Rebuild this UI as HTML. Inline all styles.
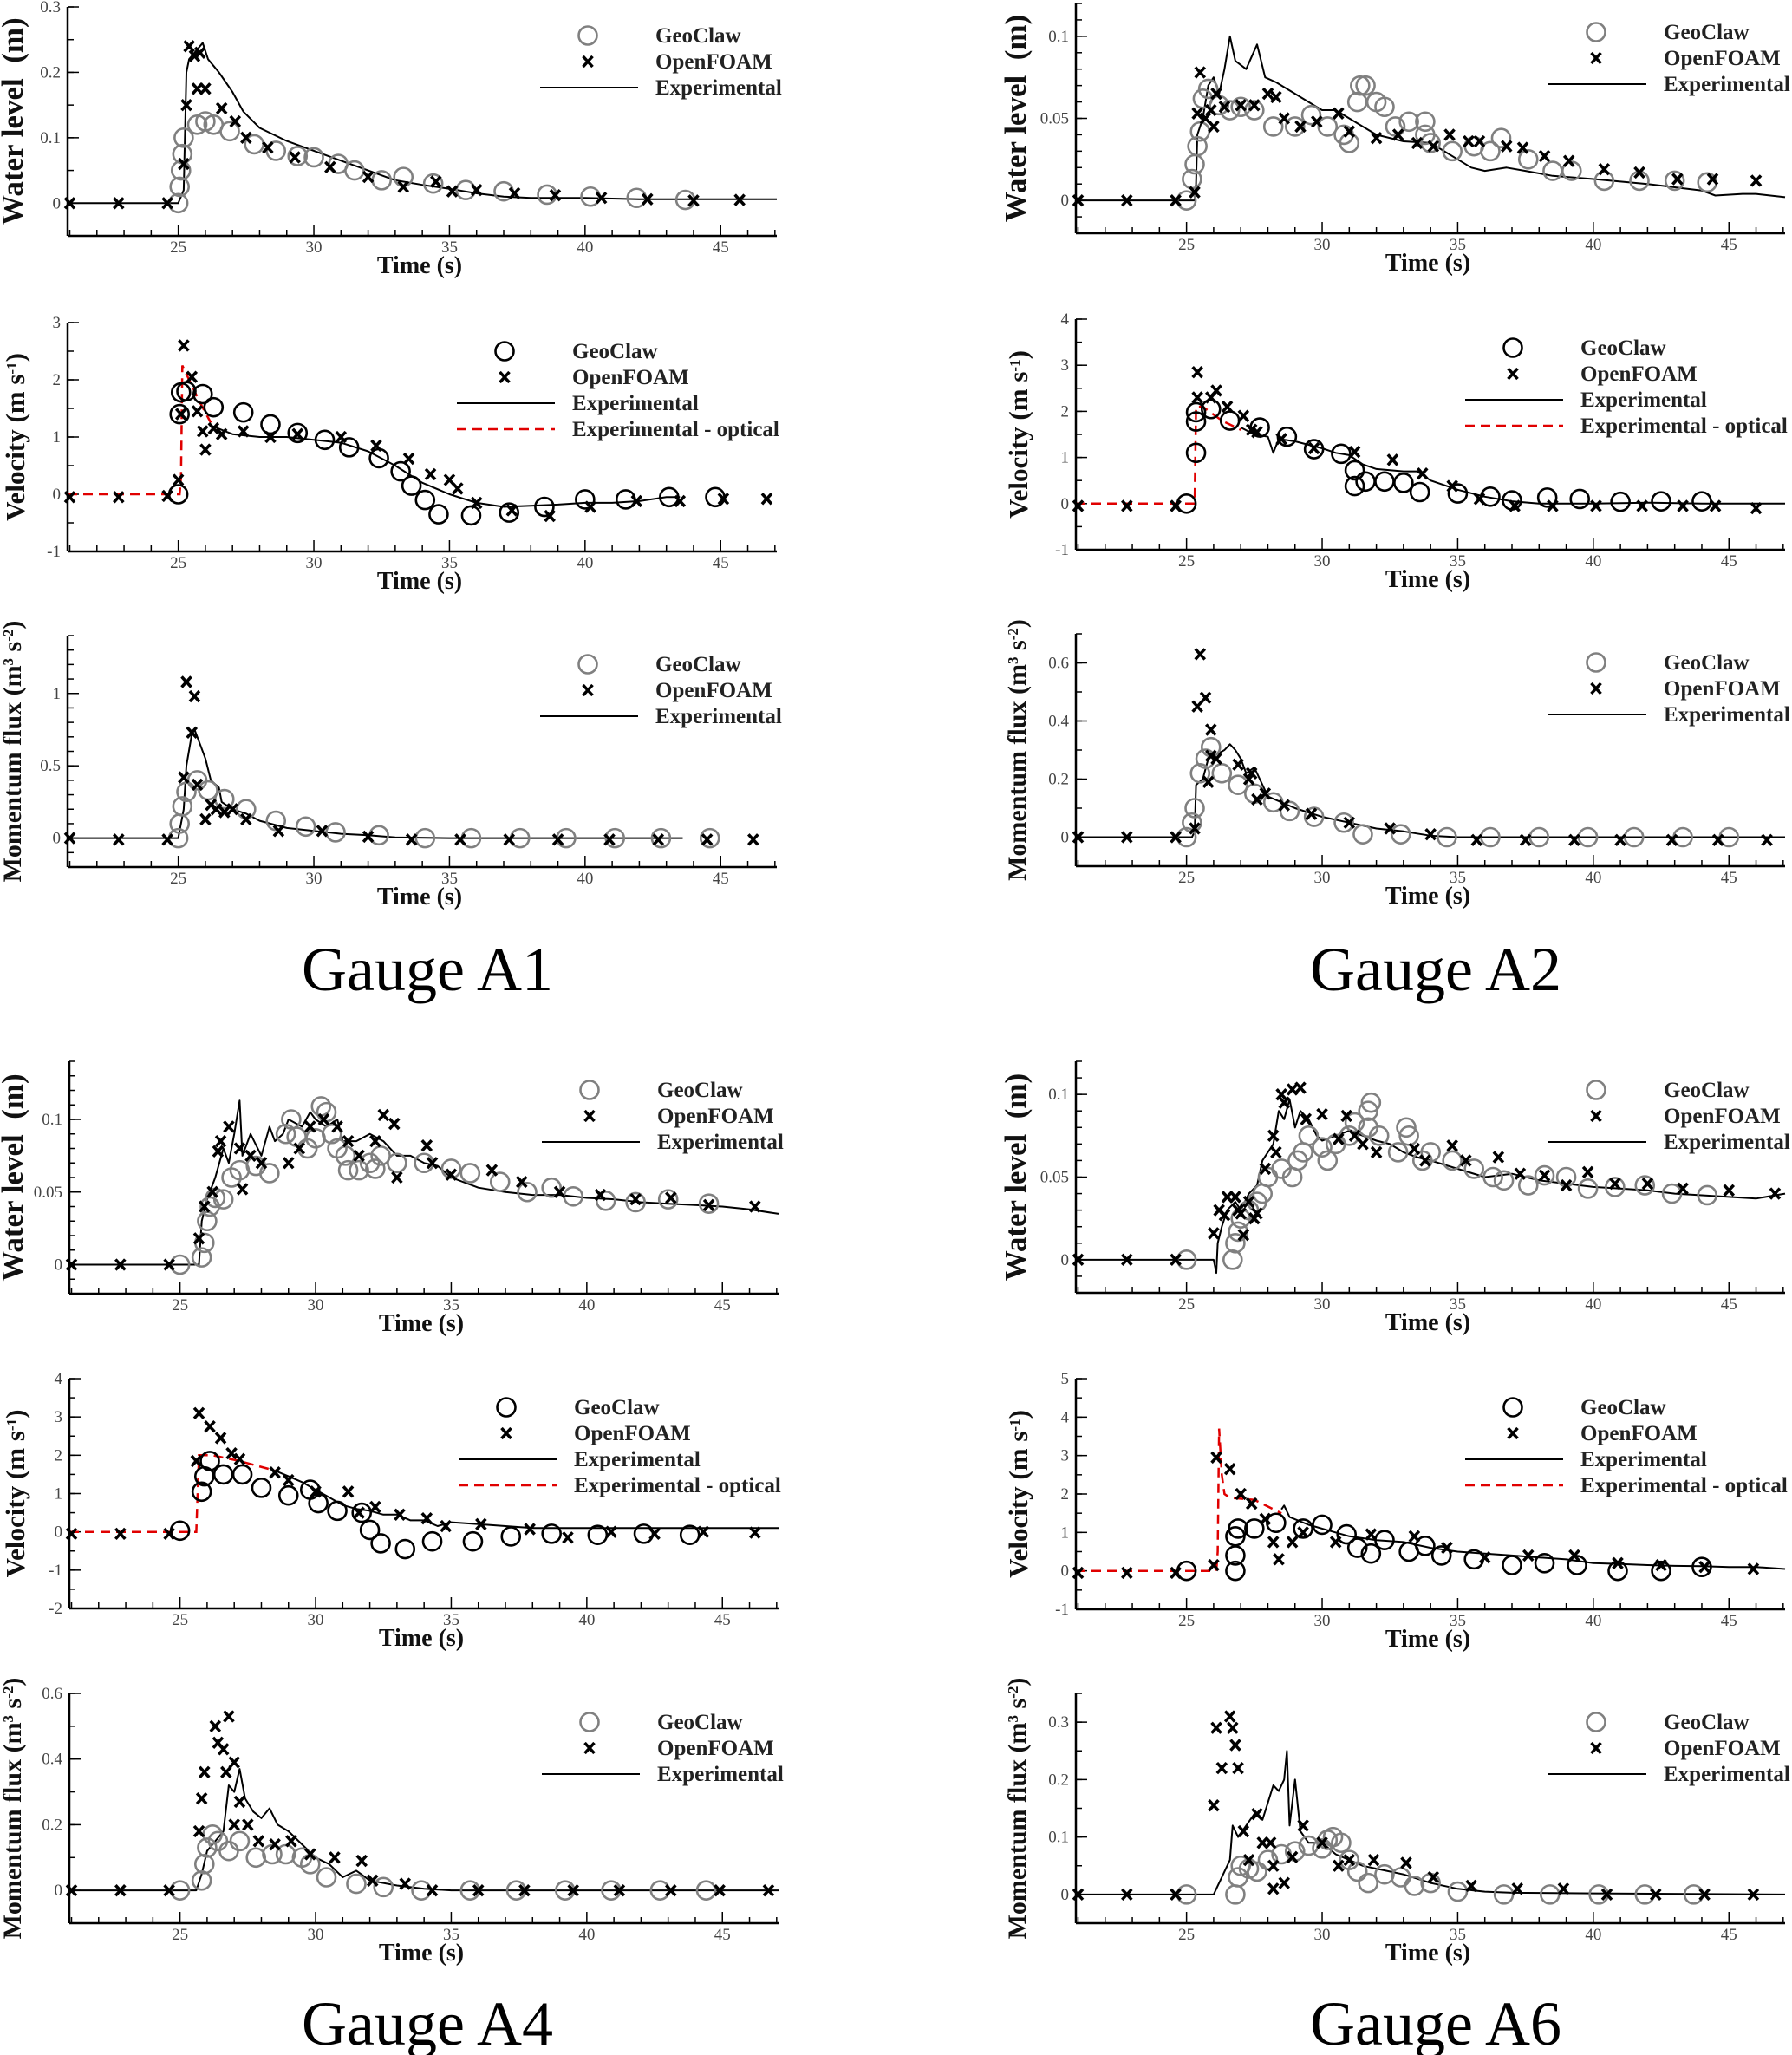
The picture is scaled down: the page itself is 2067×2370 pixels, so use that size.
<!DOCTYPE html>
<html>
<head>
<meta charset="utf-8">
<style>
html,body{margin:0;padding:0;background:#fff;}
svg{display:block;}
text{font-family:"Liberation Serif",serif;}
.tick{font-size:19px;fill:#444;}
.ttl{font-size:28px;font-weight:bold;fill:#111;}
.leg{font-size:25px;font-weight:bold;fill:#222;}
.gauge{font-size:72px;fill:#000;}
</style>
</head>
<body>
<svg id="fig" width="2067" height="2370" viewBox="0 0 2067 2370" xmlns="http://www.w3.org/2000/svg"></svg>
<script>
// ===== Data (time s, value) =====
const a1WlExp=[[20.92,0],[25.0,0],[25.2,0.02],[25.3,0.2],[25.4,0.22],[25.6,0.23],[25.9,0.245],[26.1,0.22],[26.5,0.2],[27.0,0.17],[27.4,0.14],[28.0,0.115],[29,0.095],[30,0.08],[31,0.065],[32,0.05],[33,0.035],[34,0.028],[35,0.022],[36,0.015],[37,0.01],[38,0.008],[40,0.008],[42,0.006],[44,0.006],[47.07,0.006]];
const a1WlGeo=[[25.0,0],[25.05,0.025],[25.1,0.05],[25.15,0.075],[25.2,0.1],[25.7,0.12],[26,0.125],[26.3,0.12],[26.9,0.11],[27.8,0.09],[28.6,0.08],[29.4,0.072],[30.0,0.07],[30.9,0.06],[31.5,0.05],[32.5,0.035],[33.3,0.04],[34.4,0.03],[35.6,0.02],[37.0,0.018],[38.6,0.013],[40.2,0.01],[41.9,0.008],[43.7,0.005]];
const a1WlOf=[[21,0],[22.8,0],[24.6,0],[25.2,0.06],[25.3,0.15],[25.4,0.24],[25.6,0.225],[25.8,0.23],[25.7,0.175],[26.0,0.175],[26.6,0.145],[27.1,0.125],[27.5,0.1],[28.3,0.085],[29.3,0.07],[30.6,0.055],[32,0.04],[33.3,0.025],[34.5,0.033],[35.1,0.018],[36,0.02],[37.4,0.015],[38.9,0.012],[40.6,0.008],[42.3,0.006],[44,0.004],[45.7,0.005]];

const a1VelExp=[[26.2,1.2],[27,1.05],[28,1.0],[29,1.0],[30,0.95],[31,0.9],[32,0.75],[33,0.5],[34,0.2],[35,0.0],[36,-0.15],[37,-0.22],[38,-0.2],[39,-0.18],[40,-0.15],[41,-0.15],[42,-0.12],[43,-0.05],[43.5,-0.05]];
const a1VelOpt=[[20.92,0],[25.05,0],[25.1,0.3],[25.15,2.25],[25.4,2.0],[25.8,1.6],[26.2,1.25]];
const a1VelGeo=[[25,0],[25.05,1.4],[25.1,1.78],[25.3,1.8],[25.9,1.75],[26.3,1.52],[27.4,1.43],[28.4,1.22],[29.4,1.07],[30.4,0.95],[31.3,0.82],[32.4,0.63],[33.2,0.4],[33.6,0.15],[34.1,-0.1],[34.6,-0.35],[35.8,-0.37],[37.2,-0.32],[38.5,-0.22],[40,-0.09],[41.5,-0.09],[43.1,-0.05],[44.8,-0.05]];
const a1VelOf=[[21,-0.05],[22.8,-0.05],[24.6,-0.03],[25,0.25],[25.1,1.4],[25.2,2.6],[25.5,2.05],[25.7,1.45],[25.9,1.1],[26.0,0.78],[26.3,1.15],[26.6,1.05],[27.4,1.1],[28.4,1.0],[29.4,1.05],[31,1.0],[32.3,0.85],[33.5,0.62],[34.3,0.35],[35.0,0.25],[35.3,0.1],[36,-0.15],[37.3,-0.28],[38.7,-0.38],[40.2,-0.22],[41.9,-0.12],[43.5,-0.12],[45.1,-0.08],[46.7,-0.08]];

const a1MfExp=[[20.92,0],[25.0,0],[25.2,0.2],[25.3,0.5],[25.5,0.72],[25.6,0.75],[25.8,0.65],[26.0,0.55],[26.2,0.4],[26.5,0.35],[26.6,0.25],[27,0.2],[27.5,0.17],[28,0.12],[29,0.07],[30,0.05],[31,0.03],[32,0.02],[33,0.005],[35,0],[43.6,0]];
const a1MfGeo=[[25,0],[25.05,0.1],[25.15,0.22],[25.3,0.32],[25.7,0.4],[26.1,0.33],[26.7,0.27],[27.5,0.2],[28.6,0.12],[29.7,0.08],[30.8,0.04],[32.4,0.02],[34.1,0],[35.8,0],[37.6,0],[39.3,0],[41.1,0],[42.8,0],[44.6,0]];
const a1MfOf=[[21,0],[22.8,-0.01],[24.6,-0.01],[25.2,0.42],[25.3,1.08],[25.6,0.98],[25.5,0.73],[25.7,0.37],[26,0.13],[26.2,0.23],[26.4,0.2],[26.7,0.18],[27.0,0.2],[27.5,0.13],[28.7,0.05],[30.3,0.05],[32,0.01],[33.6,-0.01],[35.4,-0.01],[37.2,-0.01],[39,-0.01],[40.9,-0.01],[42.7,-0.01],[44.5,-0.01],[46.2,-0.01]];

const a2WlExp=[[20.92,0],[25.3,0],[25.35,0.01],[25.4,0.04],[25.6,0.05],[25.8,0.07],[26,0.075],[26.2,0.065],[26.4,0.08],[26.6,0.1],[26.8,0.085],[27.2,0.08],[27.6,0.095],[27.9,0.075],[28.3,0.072],[29,0.065],[29.5,0.06],[30,0.055],[30.5,0.055],[31,0.05],[31.5,0.045],[32,0.04],[33,0.036],[34,0.035],[34.5,0.03],[35,0.025],[35.5,0.02],[36,0.018],[36.8,0.02],[37.5,0.018],[38.5,0.015],[40,0.013],[42,0.01],[43,0.008],[44,0.006],[44.5,0.003],[45.5,0.004],[46,0.004],[47.07,0.002]];
const a2WlGeo=[[25,0],[25.2,0.013],[25.3,0.022],[25.4,0.033],[25.5,0.042],[25.6,0.062],[25.8,0.068],[26.2,0.058],[26.6,0.055],[27.0,0.057],[27.5,0.055],[28.2,0.045],[29.0,0.045],[29.6,0.052],[30.2,0.045],[30.8,0.04],[31.0,0.035],[31.3,0.06],[31.4,0.07],[31.6,0.07],[32.0,0.06],[32.3,0.057],[32.7,0.045],[33.2,0.048],[33.8,0.048],[33.8,0.04],[34.0,0.035],[34.8,0.03],[35.6,0.033],[36.2,0.03],[36.6,0.038],[37.6,0.025],[38.5,0.018],[39.2,0.018],[40.4,0.012],[41.7,0.012],[43,0.012],[44.2,0.011]];
const a2WlOf=[[21,0],[22.8,0],[24.6,0],[25.3,0.005],[25.4,0.053],[25.5,0.078],[25.7,0.05],[25.9,0.055],[26.0,0.045],[26.1,0.065],[26.4,0.057],[27.0,0.058],[27.5,0.058],[28.0,0.065],[28.3,0.063],[28.6,0.05],[29.2,0.045],[29.8,0.048],[30.6,0.053],[31.0,0.042],[32.0,0.038],[32.8,0.04],[33.5,0.035],[34.1,0.033],[34.7,0.04],[35.4,0.036],[35.8,0.036],[36.8,0.033],[37.4,0.032],[38.2,0.027],[39.1,0.024],[40.4,0.019],[41.7,0.017],[43.1,0.013],[44.4,0.013],[46.0,0.012]];

const a2VelExp=[[27,1.65],[27.5,1.5],[28,1.45],[28.2,1.1],[28.4,1.4],[29,1.35],[30,1.2],[30.5,1.1],[31,1.05],[31.5,0.85],[32,0.75],[33,0.7],[33.5,0.7],[34,0.5],[35,0.3],[36,0.15],[37,0.05],[38,0.0],[40,0.0],[42,0.02],[44,0.0],[47.07,0.0]];
const a2VelOpt=[[20.92,0],[25.3,0],[25.35,2.1],[25.6,2.1],[26.3,1.8],[27,1.6]];
const a2VelGeo=[[25,0],[25.35,1.1],[25.35,1.78],[25.35,1.98],[25.9,2.05],[26.6,1.8],[27.7,1.65],[28.7,1.45],[29.7,1.18],[30.7,1.08],[31.2,0.72],[31.2,0.38],[31.6,0.48],[32.3,0.48],[33.0,0.45],[33.6,0.25],[35.0,0.22],[36.2,0.15],[37.0,0.07],[38.3,0.13],[39.5,0.1],[41.0,0.04],[42.5,0.05],[44.0,0.05]];
const a2VelOf=[[21,-0.05],[22.8,-0.05],[24.6,-0.05],[25.4,2.3],[25.4,2.85],[25.9,2.3],[26.1,2.45],[26.5,2.1],[27.1,1.9],[27.4,1.6],[27.6,1.55],[28.5,1.4],[29.7,1.2],[31.2,1.12],[32.6,0.95],[33.7,0.65],[34.8,0.38],[35.8,0.1],[37.1,-0.05],[38.5,-0.05],[40.1,-0.05],[41.8,-0.05],[43.3,-0.05],[44.5,-0.05],[46,-0.1]];

const a2MfExp=[[20.92,0],[25.2,0],[25.3,0.02],[25.35,0.18],[25.6,0.2],[25.8,0.27],[26.0,0.28],[26.4,0.3],[26.6,0.32],[26.8,0.3],[27,0.27],[27.2,0.22],[27.5,0.24],[27.7,0.2],[28,0.14],[29,0.1],[30,0.07],[31,0.05],[32,0.03],[33,0.02],[34,0.005],[35,0],[47.07,0]];
const a2MfGeo=[[25,0],[25.2,0.05],[25.3,0.1],[25.5,0.22],[25.7,0.27],[25.9,0.31],[26.3,0.22],[26.9,0.18],[27.5,0.15],[28.2,0.12],[28.8,0.09],[29.7,0.07],[30.8,0.05],[31.5,0.01],[32.9,0.01],[34.6,0],[36.2,0],[38,0],[39.8,0],[41.5,0],[43.3,0],[45,0]];
const a2MfOf=[[21,0],[22.8,0],[24.6,0],[25.3,0.03],[25.4,0.45],[25.5,0.63],[25.7,0.48],[25.9,0.37],[25.8,0.19],[25.9,0.28],[26.1,0.27],[26.9,0.25],[27.3,0.2],[27.4,0.22],[27.6,0.13],[27.9,0.15],[28.6,0.11],[29.6,0.08],[31,0.05],[32.5,0.03],[34,0.01],[35.7,-0.01],[37.5,-0.01],[39.3,-0.01],[41,-0.01],[42.9,-0.01],[44.6,-0.01],[46.4,-0.01]];

const a4WlExp=[[20.92,0],[25.7,0],[25.8,0.03],[26,0.045],[26.3,0.06],[26.6,0.08],[26.8,0.07],[27.0,0.09],[27.2,0.113],[27.3,0.075],[27.6,0.09],[28,0.075],[28.3,0.095],[28.5,0.085],[28.8,0.09],[29,0.1],[29.5,0.095],[29.8,0.105],[30,0.1],[30.4,0.095],[30.8,0.1],[31,0.085],[31.5,0.085],[32,0.09],[32.5,0.085],[33,0.075],[33.5,0.075],[34,0.07],[34.5,0.068],[35,0.06],[36,0.053],[37,0.05],[38,0.048],[39,0.048],[40,0.046],[41,0.045],[42,0.043],[43,0.042],[44,0.041],[45,0.04],[46,0.038],[47.07,0.035]];
const a4WlGeo=[[25,0],[25.8,0.005],[25.9,0.015],[26.0,0.03],[26.1,0.04],[26.3,0.046],[26.6,0.045],[26.9,0.06],[27.2,0.065],[27.8,0.068],[28.3,0.063],[28.9,0.09],[29.1,0.1],[29.3,0.088],[29.7,0.08],[30.0,0.087],[30.2,0.109],[30.4,0.105],[30.6,0.09],[30.8,0.08],[31.1,0.075],[31.2,0.065],[31.6,0.065],[32,0.07],[32.2,0.066],[32.4,0.075],[33,0.07],[34,0.07],[35,0.066],[35.7,0.063],[36.8,0.057],[37.8,0.05],[38.7,0.053],[39.5,0.047],[40.7,0.044],[41.8,0.043],[43,0.045],[44.5,0.042]];
const a4WlOf=[[21,0],[22.8,0],[24.6,0],[25.7,0.018],[25.9,0.04],[26.2,0.05],[26.4,0.078],[26.5,0.085],[26.8,0.095],[27.2,0.08],[27.3,0.052],[27.6,0.075],[28,0.07],[29,0.07],[29.4,0.08],[29.8,0.095],[30.3,0.1],[30.8,0.095],[31.2,0.085],[31.6,0.075],[32.2,0.085],[32.5,0.103],[32.9,0.097],[33.0,0.06],[34.1,0.082],[34.3,0.07],[35.0,0.062],[36.5,0.065],[37.6,0.057],[39,0.05],[40.5,0.048],[41.8,0.045],[43.1,0.046],[44.5,0.041],[46.2,0.04]];

const a4VelExp=[[28.5,1.6],[29,1.45],[29.5,1.3],[30,1.1],[30.5,0.9],[31,0.7],[31.5,0.6],[32,0.55],[32.5,0.45],[33,0.45],[33.5,0.3],[34,0.3],[34.5,0.15],[35,0.25],[36,0.2],[37,0.15],[38,0.1],[40,0.1],[42,0.1],[44,0.1],[47.07,0.1]];
const a4VelOpt=[[20.92,0],[25.6,0],[25.7,2.0],[26.2,2.0],[27.2,1.85],[28.5,1.6]];
const a4VelGeo=[[25,0.03],[25.8,1.05],[25.9,1.45],[26.1,1.85],[26.6,1.5],[27.3,1.5],[28,1.15],[29,0.95],[29.8,1.1],[30.1,0.75],[30.8,0.55],[31.7,0.5],[32,0.05],[32.4,-0.3],[33.3,-0.45],[34.3,-0.25],[35.8,-0.25],[37.2,-0.12],[38.7,-0.05],[40.4,-0.08],[42.1,-0.05],[43.8,-0.08]];
const a4VelOf=[[21,-0.05],[22.8,-0.05],[24.6,-0.05],[25.6,1.85],[25.7,3.1],[26.1,2.75],[26.5,2.45],[26.9,2.05],[27.2,1.9],[28.5,1.55],[29.0,1.35],[30,1.05],[31.2,1.05],[31.6,0.5],[32.2,0.65],[33.1,0.45],[34.1,0.35],[34.8,0.15],[36.1,0.2],[37.9,0.07],[39.3,-0.15],[40.9,0.0],[42.5,-0.05],[44.3,0.0],[46.2,-0.02]];

const a4MfExp=[[20.92,0],[25.6,0],[25.8,0.05],[26,0.12],[26.3,0.15],[26.6,0.18],[26.8,0.32],[27,0.3],[27.2,0.37],[27.4,0.28],[27.7,0.24],[28,0.22],[28.3,0.25],[28.6,0.2],[29,0.18],[29.5,0.14],[30,0.1],[30.5,0.08],[31,0.04],[31.5,0.06],[32,0.03],[33,0.015],[34,0.005],[35,0],[47.07,0]];
const a4MfGeo=[[25,0],[25.8,0.03],[25.9,0.08],[26.0,0.13],[26.2,0.17],[26.4,0.15],[26.8,0.12],[27.2,0.15],[27.8,0.1],[28.4,0.11],[28.9,0.11],[29.5,0.1],[29.8,0.08],[30.4,0.04],[31.5,0.02],[32.5,0.01],[33.9,0],[35.7,0],[37.4,0],[39.2,0],[40.9,0],[42.7,0],[44.4,0]];
const a4MfOf=[[21,0],[22.8,0],[24.6,0],[25.7,0.18],[25.8,0.28],[25.9,0.36],[26.3,0.5],[26.4,0.45],[26.6,0.43],[26.7,0.36],[26.8,0.53],[27.0,0.39],[27.2,0.27],[27.0,0.2],[27.5,0.2],[27.9,0.15],[28.5,0.14],[29.1,0.15],[29.8,0.11],[30.7,0.1],[31.7,0.09],[32.1,0.03],[33.3,0.02],[34.3,0],[36,0],[37.7,0],[39.5,0],[41.2,0],[43.1,0],[44.9,0],[46.7,0]];

const a6WlExp=[[20.92,0],[26.0,0],[26.1,-0.008],[26.15,0.01],[26.3,0.02],[26.5,0.03],[26.8,0.035],[27,0.03],[27.3,0.04],[27.6,0.045],[27.8,0.06],[28.2,0.07],[28.4,0.09],[28.6,0.085],[28.8,0.097],[29,0.08],[29.2,0.09],[29.5,0.085],[29.8,0.075],[30,0.072],[30.5,0.075],[31,0.078],[31.5,0.075],[32,0.072],[32.5,0.07],[33,0.065],[33.5,0.062],[34,0.06],[35,0.055],[36,0.05],[37,0.052],[38,0.048],[39,0.046],[40,0.044],[41,0.043],[42,0.042],[43,0.04],[44,0.039],[45,0.038],[46,0.037],[47.07,0.04]];
const a6WlGeo=[[25,0],[26.7,0],[26.8,0.01],[26.9,0.017],[27.0,0.025],[27.3,0.03],[27.6,0.035],[27.8,0.04],[28.0,0.05],[28.5,0.055],[28.9,0.05],[29.1,0.06],[29.3,0.065],[29.5,0.075],[30,0.068],[30.2,0.06],[30.5,0.07],[31,0.075],[31.2,0.083],[31.7,0.09],[31.8,0.095],[31.7,0.08],[32.1,0.075],[32.8,0.065],[33.1,0.08],[33.2,0.075],[33.7,0.06],[34,0.065],[34.8,0.06],[35.6,0.055],[36.3,0.05],[36.7,0.048],[37.6,0.045],[38.2,0.051],[39,0.05],[39.8,0.043],[40.8,0.044],[41.9,0.045],[42.9,0.04],[44.2,0.039]];
const a6WlOf=[[21,0],[22.8,0],[24.6,0],[26.0,0.016],[26.2,0.03],[26.4,0.027],[26.5,0.038],[26.8,0.038],[26.9,0.03],[27.1,0.015],[27.0,0.028],[27.3,0.035],[27.5,0.025],[27.6,0.028],[27.9,0.055],[28.2,0.075],[28.3,0.065],[28.5,0.1],[28.6,0.095],[28.9,0.103],[29.2,0.104],[29.4,0.085],[30.0,0.088],[30.6,0.073],[30.9,0.087],[31.2,0.075],[31.5,0.07],[32,0.065],[33.4,0.067],[33.8,0.06],[34.8,0.069],[35.3,0.06],[36.5,0.062],[37.3,0.052],[38.2,0.051],[39.0,0.045],[39.8,0.053],[40.8,0.046],[42.0,0.046],[43.3,0.043],[45.0,0.042],[46.7,0.04]];

const a6VelExp=[[28.5,1.6],[28.6,1.7],[28.8,1.4],[29.5,1.2],[30,1.1],[31,0.9],[32,0.8],[33,0.75],[34,0.6],[35,0.5],[36,0.45],[37,0.4],[38,0.35],[39,0.3],[40,0.2],[41,0.18],[42,0.15],[43,0.13],[44,0.12],[45,0.1],[46,0.1],[47.07,0.05]];
const a6VelOpt=[[20.92,0],[26.1,0],[26.15,0.5],[26.2,3.7],[26.3,2.5],[26.4,2.0],[26.6,1.9],[27.5,1.85],[28.5,1.5]];
const a6VelGeo=[[25,0],[26.8,0.0],[26.8,0.4],[26.8,0.9],[26.9,1.1],[27.5,1.1],[28.3,1.25],[29.3,1.1],[30,1.2],[30.9,0.95],[31.3,0.6],[31.8,0.45],[32.3,0.8],[33.2,0.5],[33.8,0.65],[34.4,0.4],[35.6,0.3],[37,0.15],[38.2,0.2],[39.4,0.15],[40.9,0.0],[42.5,0.0],[44.0,0.1]];
const a6VelOf=[[21,-0.05],[22.8,-0.05],[24.6,-0.05],[26.0,0.15],[26.1,2.95],[26.6,2.65],[27.0,2.0],[27.4,1.75],[27.9,1.35],[28.2,0.75],[28.4,0.3],[28.9,0.75],[29.3,1.0],[30.5,0.75],[31.8,0.95],[33.4,0.9],[34.6,0.6],[36.0,0.35],[37.6,0.4],[39.3,0.4],[40.9,0.2],[42.5,0.15],[44.1,0.1],[45.9,0.05]];

const a6MfExp=[[20.92,0],[26.0,0],[26.1,0.01],[26.3,0.03],[26.6,0.06],[26.7,0.12],[26.9,0.1],[27.2,0.12],[27.5,0.14],[27.8,0.13],[28.0,0.16],[28.2,0.19],[28.4,0.18],[28.6,0.2],[28.7,0.25],[28.8,0.12],[29,0.2],[29.2,0.11],[29.5,0.09],[30,0.09],[30.5,0.07],[31,0.06],[31.5,0.05],[32,0.045],[33,0.035],[34,0.02],[35,0.01],[36,0.005],[37,0.003],[40,0.002],[47.07,0]];
const a6MfGeo=[[25,0],[26.8,0],[26.9,0.03],[27.0,0.05],[27.3,0.045],[27.6,0.04],[28.0,0.06],[28.5,0.07],[29.0,0.075],[29.5,0.085],[30,0.08],[30.2,0.095],[30.4,0.1],[30.7,0.09],[31.0,0.06],[31.3,0.04],[31.7,0.02],[32.3,0.035],[32.9,0.03],[33.4,0.015],[34,0.02],[35,0.005],[36.7,0.0],[38.4,0.0],[40.2,0.0],[41.9,0.0],[43.7,0.0]];
const a6MfOf=[[21,0],[22.8,0],[24.6,0],[26.0,0.155],[26.1,0.29],[26.3,0.22],[26.6,0.31],[26.7,0.29],[26.8,0.26],[26.9,0.22],[27.1,0.11],[27.3,0.06],[27.6,0.14],[27.8,0.09],[28.1,0.09],[28.2,0.05],[28.2,0.01],[28.6,0.02],[28.9,0.065],[29.3,0.12],[30.0,0.09],[30.6,0.05],[31.0,0.06],[31.9,0.06],[33.1,0.055],[34.1,0.03],[35.5,0.015],[37.2,0.01],[38.9,0.01],[40.5,0.0],[42.3,0.0],[44.1,0.0],[45.9,0.0]];

const xTicks=[25,30,35,40,45];
const tMin=20.92, tMax=47.07;

const NS="http://www.w3.org/2000/svg";
const svg=document.getElementById('fig');
function mk(tag,attrs,parent,name,inter){
  const el=document.createElementNS(NS,tag);
  for(const k in attrs) el.setAttribute(k,attrs[k]);
  
  
  (parent||svg).appendChild(el);
  return el;
}

function panel(c){
  const g=mk('g',{},svg,c.id,false);
  const X=t=>c.x0+(t-tMin)/(tMax-tMin)*(c.x1-c.x0);
  const Y=v=>c.y1-(v-c.vmin)/(c.vmax-c.vmin)*(c.y1-c.y0);
  mk('line',{x1:c.x0,y1:c.y0,x2:c.x0,y2:c.y1,stroke:'#000','stroke-width':2.5},g,'y-axis-line',false);
  mk('line',{x1:c.x0,y1:c.y1,x2:c.x1,y2:c.y1,stroke:'#000','stroke-width':2.5},g,'x-axis-line',false);
  for(let t=21;t<=47;t++){
    const major=xTicks.includes(t);
    mk('line',{x1:X(t),y1:c.y1,x2:X(t),y2:c.y1-(major?13:7),stroke:'#000','stroke-width':1.5},g,'x-tick',false);
  }
  xTicks.forEach(t=>{
    const tx=mk('text',{x:X(t),y:c.y1+19,'text-anchor':'middle',class:'tick'},g,'x-tick-label',false);
    tx.textContent=t;
  });
  c.minor.forEach(v=>{
    mk('line',{x1:c.x0,y1:Y(v),x2:c.x0+7,y2:Y(v),stroke:'#000','stroke-width':1.5},g,'y-minor-tick',false);
  });
  c.ticks.forEach((v,i)=>{
    mk('line',{x1:c.x0,y1:Y(v),x2:c.x0+13,y2:Y(v),stroke:'#000','stroke-width':1.5},g,'y-tick',false);
    const tx=mk('text',{x:c.x0-8,y:Y(v)+6,'text-anchor':'end',class:'tick'},g,'y-tick-label',false);
    tx.textContent=c.tickLabels[i];
  });
  const xl=mk('text',{x:(c.x0+c.x1)/2-3,y:c.y1+43,'text-anchor':'middle',class:'ttl'},g,'x-axis-title',false);
  xl.textContent='Time (s)';
  const cy=(c.y0+c.y1)/2;
  const yl=mk('text',{x:c.ylx,y:cy,'text-anchor':'middle',transform:`rotate(-90 ${c.ylx} ${cy})`,style:`font-size:${c.ylfs}px;font-weight:bold;fill:#111`},g,'y-axis-title',false);
  yl.innerHTML=c.ylabel;
  const pts=a=>a.map(p=>X(p[0]).toFixed(1)+','+Y(p[1]).toFixed(1)).join(' ');
  if(c.opt) mk('polyline',{points:pts(c.opt),fill:'none',stroke:'#e00000','stroke-width':2.5,'stroke-dasharray':'11 7'},g,'experimental-optical-line',false);
  mk('polyline',{points:pts(c.exp),fill:'none',stroke:'#000','stroke-width':2,'stroke-linejoin':'round'},g,'experimental-line',false);
  const cc=c.opt?'#000':'#808080';
  c.geo.forEach(p=>{
    mk('circle',{cx:X(p[0]),cy:Y(p[1]),r:10.5,fill:'none',stroke:cc,'stroke-width':2.6},g,'geoclaw-point',false);
  });
  c.of.forEach(p=>{
    const x=X(p[0]),y=Y(p[1]);
    mk('path',{d:`M${x-5.5},${y-6}L${x+5.5},${y+6}M${x+5.5},${y-6}L${x-5.5},${y+6}`,stroke:'#000','stroke-width':3.5,fill:'none'},g,'openfoam-point',false);
  });
  const lg=mk('g',{},g,'legend',false);
  const off=c.opt?0:96;
  const cxL=c.x0+504+off, txL=c.x0+582+off, l1=c.x0+449+off, l2=c.x0+562+off;
  const r0=c.y0+33;
  mk('circle',{cx:cxL,cy:r0,r:10.5,fill:'none',stroke:cc,'stroke-width':2.6},lg,'legend-geoclaw-marker',false);
  let t=mk('text',{x:txL,y:r0+8,class:'leg'},lg,'legend-geoclaw-label',false); t.textContent='GeoClaw';
  const y2=r0+30;
  mk('path',{d:`M${cxL-5.5},${y2-6}L${cxL+5.5},${y2+6}M${cxL+5.5},${y2-6}L${cxL-5.5},${y2+6}`,stroke:'#000','stroke-width':3.5},lg,'legend-openfoam-marker',false);
  t=mk('text',{x:txL,y:y2+8,class:'leg'},lg,'legend-openfoam-label',false); t.textContent='OpenFOAM';
  const y3=r0+60;
  mk('line',{x1:l1,y1:y3,x2:l2,y2:y3,stroke:'#000','stroke-width':2},lg,'legend-experimental-line',false);
  t=mk('text',{x:txL,y:y3+8,class:'leg'},lg,'legend-experimental-label',false); t.textContent='Experimental';
  if(c.opt){
    const y4=r0+90;
    mk('line',{x1:l1,y1:y4,x2:l2,y2:y4,stroke:'#e00000','stroke-width':2.5,'stroke-dasharray':'11 7'},lg,'legend-optical-line',false);
    t=mk('text',{x:txL,y:y4+8,class:'leg'},lg,'legend-optical-label',false); t.textContent='Experimental - optical';
  }
}
function rng(a,b,s){const r=[];for(let v=a;v<=b+1e-9;v+=s)r.push(+v.toFixed(4));return r;}
const WL='Water level&#160;&#160;(m)';
const VL='Velocity (m s<tspan baseline-shift="super" font-size="17">-1</tspan>)';
const MF='Momentum flux (m<tspan baseline-shift="super" font-size="17">3</tspan> s<tspan baseline-shift="super" font-size="17">-2</tspan>)';
const L={x0:78,x1:896}, R={x0:1241,x1:2059};

panel({id:'a1-water-level-panel',...L,y0:8,y1:272,vmin:-0.05,vmax:0.3,ticks:[0,0.1,0.2,0.3],tickLabels:['0','0.1','0.2','0.3'],minor:rng(-0.05,0.3,0.05),ylabel:WL,ylx:26,ylfs:35,exp:a1WlExp,geo:a1WlGeo,of:a1WlOf});
panel({id:'a1-velocity-panel',...L,y0:372,y1:636,vmin:-1,vmax:3,ticks:[-1,0,1,2,3],tickLabels:['-1','0','1','2','3'],minor:rng(-1,3,0.5),ylabel:VL,ylx:28,ylfs:31,exp:a1VelExp,opt:a1VelOpt,geo:a1VelGeo,of:a1VelOf});
panel({id:'a1-momentum-flux-panel',...L,y0:733,y1:1000,vmin:-0.2,vmax:1.4,ticks:[0,0.5,1],tickLabels:['0','0.5','1'],minor:rng(-0.2,1.4,0.1),ylabel:MF,ylx:24,ylfs:30,exp:a1MfExp,geo:a1MfGeo,of:a1MfOf});
panel({id:'a2-water-level-panel',...R,y0:4,y1:269,vmin:-0.02,vmax:0.12,ticks:[0,0.05,0.1],tickLabels:['0','0.05','0.1'],minor:rng(-0.02,0.12,0.01),ylabel:WL,ylx:1183,ylfs:35,exp:a2WlExp,geo:a2WlGeo,of:a2WlOf});
panel({id:'a2-velocity-panel',...R,y0:368,y1:634,vmin:-1,vmax:4,ticks:[-1,0,1,2,3,4],tickLabels:['-1','0','1','2','3','4'],minor:rng(-1,4,0.5),ylabel:VL,ylx:1185,ylfs:31,exp:a2VelExp,opt:a2VelOpt,geo:a2VelGeo,of:a2VelOf});
panel({id:'a2-momentum-flux-panel',...R,y0:731,y1:999,vmin:-0.1,vmax:0.7,ticks:[0,0.2,0.4,0.6],tickLabels:['0','0.2','0.4','0.6'],minor:rng(-0.1,0.7,0.1),ylabel:MF,ylx:1183,ylfs:30,exp:a2MfExp,geo:a2MfGeo,of:a2MfOf});
const L2={x0:80,x1:898};
panel({id:'a4-water-level-panel',...L2,y0:1224,y1:1492,vmin:-0.02,vmax:0.14,ticks:[0,0.05,0.1],tickLabels:['0','0.05','0.1'],minor:rng(-0.02,0.14,0.01),ylabel:WL,ylx:26,ylfs:35,exp:a4WlExp,geo:a4WlGeo,of:a4WlOf});
panel({id:'a4-velocity-panel',...L2,y0:1590,y1:1855,vmin:-2,vmax:4,ticks:[-2,-1,0,1,2,3,4],tickLabels:['-2','-1','0','1','2','3','4'],minor:rng(-2,4,0.5),ylabel:VL,ylx:28,ylfs:31,exp:a4VelExp,opt:a4VelOpt,geo:a4VelGeo,of:a4VelOf});
panel({id:'a4-momentum-flux-panel',...L2,y0:1953,y1:2218,vmin:-0.1,vmax:0.6,ticks:[0,0.2,0.4,0.6],tickLabels:['0','0.2','0.4','0.6'],minor:rng(-0.1,0.6,0.1),ylabel:MF,ylx:24,ylfs:30,exp:a4MfExp,geo:a4MfGeo,of:a4MfOf});
panel({id:'a6-water-level-panel',...R,y0:1224,y1:1491,vmin:-0.02,vmax:0.12,ticks:[0,0.05,0.1],tickLabels:['0','0.05','0.1'],minor:rng(-0.02,0.12,0.01),ylabel:WL,ylx:1183,ylfs:35,exp:a6WlExp,geo:a6WlGeo,of:a6WlOf});
panel({id:'a6-velocity-panel',...R,y0:1590,y1:1856,vmin:-1,vmax:5,ticks:[-1,0,1,2,3,4,5],tickLabels:['-1','0','1','2','3','4','5'],minor:rng(-1,5,0.5),ylabel:VL,ylx:1185,ylfs:31,exp:a6VelExp,opt:a6VelOpt,geo:a6VelGeo,of:a6VelOf});
panel({id:'a6-momentum-flux-panel',...R,y0:1953,y1:2218,vmin:-0.05,vmax:0.35,ticks:[0,0.1,0.2,0.3],tickLabels:['0','0.1','0.2','0.3'],minor:rng(-0.05,0.35,0.05),ylabel:MF,ylx:1183,ylfs:30,exp:a6MfExp,geo:a6MfGeo,of:a6MfOf});

[['Gauge A1',493,1142],['Gauge A2',1656,1142],['Gauge A4',493,2358],['Gauge A6',1656,2358]].forEach(d=>{
  const t=mk('text',{x:d[1],y:d[2],'text-anchor':'middle',class:'gauge'},svg,'gauge-title',false);
  t.textContent=d[0];
});
</script>
</body>
</html>
